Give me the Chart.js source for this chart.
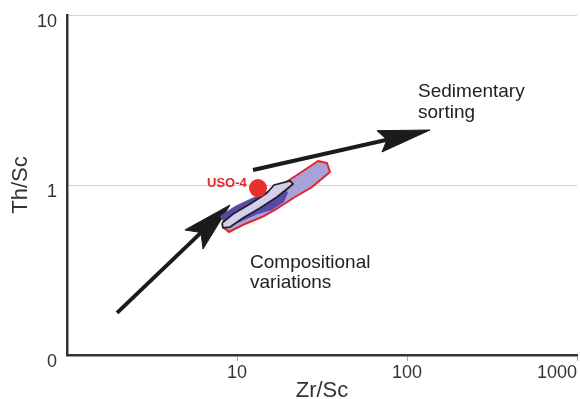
<!DOCTYPE html>
<html>
<head>
<meta charset="utf-8">
<script src="https://cdn.jsdelivr.net/npm/chart.js@4.4.1/dist/chart.umd.min.js"></script>
<style>
  body { margin: 0; background: #fff; }
  canvas { display: block; }
</style>
</head>
<body>
<canvas id="myChart" width="580" height="399"></canvas>
<script>
// Axes
const xTicks = [10, 100, 1000];
const xTickLabels = ['10', '100', '1000'];
const yTicks = [0.1, 1, 10];
const yTickLabels = ['0', '1', '10'];

// Arrows (Zr/Sc, Th/Sc)
const arrow1ShaftX = [1.97, 6.14];
const arrow1ShaftY = [0.177, 0.525];
const arrow1HeadX = [6.14, 4.94, 9.10, 6.31, 6.14];
const arrow1HeadY = [0.525, 0.544, 0.763, 0.420, 0.525];

const arrow2ShaftX = [12.42, 76.3];
const arrow2ShaftY = [1.225, 1.847];
const arrow2HeadX = [76.3, 66.6, 136.6, 71.3, 76.3];
const arrow2HeadY = [1.847, 2.087, 2.106, 1.564, 1.847];

// Sample fields
const redFieldX = [8.39, 10.41, 13.66, 17.90, 23.48, 29.95, 33.83, 35.25, 27.62, 21.94, 17.42, 14.03, 11.14, 8.97, 8.39, 8.39];
const redFieldY = [0.614, 0.713, 0.839, 0.987, 1.177, 1.384, 1.347, 1.192, 0.973, 0.850, 0.732, 0.648, 0.590, 0.529, 0.559, 0.614];

const darkFieldX = [7.94, 9.73, 12.25, 15.64, 18.90, 19.95, 18.90, 16.07, 13.29, 10.41, 8.62, 7.94];
const darkFieldY = [0.657, 0.752, 0.839, 0.935, 0.987, 0.897, 0.794, 0.713, 0.675, 0.606, 0.574, 0.657];

const lightFieldX = [8.16, 9.47, 11.93, 15.01, 16.51, 20.50, 21.35, 19.68, 17.19, 13.66, 10.85, 9.10, 8.27, 8.16];
const lightFieldY = [0.598, 0.675, 0.773, 0.897, 1.0, 1.056, 1.014, 0.947, 0.850, 0.732, 0.640, 0.566, 0.559, 0.598];

// USO-4 sample
const usoX = [13.29];
const usoY = [0.960];

// Annotations
const noteText = [['Sedimentary', 'sorting'], ['Compositional', 'variations'], ['USO-4']];
const noteX = [116.1, 11.93, 6.66];
const noteY = [3.294, 0.325, 0.973];

const pts = (xs, ys) => xs.map((x, i) => ({ x: x, y: ys[i] }));

const noteFont = ['19px "Liberation Sans", Arial, sans-serif', '19px "Liberation Sans", Arial, sans-serif', 'bold 13px "Liberation Sans", Arial, sans-serif'];
const noteColor = ['#222', '#222', '#e2262a'];
const noteLeading = [21, 20, 0];

const notesPlugin = {
    id: 'notes',
    afterDatasetsDraw(chart) {
        const { ctx, scales: { x, y } } = chart;
        ctx.save();
        ctx.textAlign = 'left';
        ctx.textBaseline = 'alphabetic';
        noteText.forEach((lines, i) => {
            ctx.font = noteFont[i];
            ctx.fillStyle = noteColor[i];
            const px = x.getPixelForValue(noteX[i]);
            const py = y.getPixelForValue(noteY[i]);
            lines.forEach((t, j) => ctx.fillText(t, px, py + j * noteLeading[i]));
        });
        ctx.restore();
    }
};

const line = (data, color, width, order) => ({
    data: data, showLine: true, fill: false, borderColor: color, borderWidth: width,
    pointRadius: 0, borderCapStyle: 'butt', order: order
});

const shape = (data, fillColor, borderColor, width, order) => ({
    data: data, showLine: true, fill: 'shape', backgroundColor: fillColor,
    borderColor: borderColor, borderWidth: width, pointRadius: 0,
    borderJoinStyle: 'round', order: order
});

const data = {
    datasets: [
        line(pts(arrow1ShaftX, arrow1ShaftY), '#1b1b1b', 4, 9),
        shape(pts(arrow1HeadX, arrow1HeadY), '#1b1b1b', '#1b1b1b', 1, 8),
        line(pts(arrow2ShaftX, arrow2ShaftY), '#1b1b1b', 4, 7),
        shape(pts(arrow2HeadX, arrow2HeadY), '#1b1b1b', '#1b1b1b', 1, 6),
        shape(pts(redFieldX, redFieldY), '#a7a2da', '#e4262a', 2, 5),
        shape(pts(darkFieldX, darkFieldY), '#5a48ab', 'rgba(0,0,0,0)', 0, 4),
        shape(pts(lightFieldX, lightFieldY), '#d3cff0', '#222', 1.8, 3),
        {
            data: pts(usoX, usoY), pointRadius: 9, pointBackgroundColor: '#e6322a',
            pointBorderWidth: 0, showLine: false, order: 1
        }
    ]
};

const tickFont = { family: '"Liberation Sans", Arial, sans-serif', size: 18 };
const titleFont = { family: '"Liberation Sans", Arial, sans-serif', size: 22 };

const config = {
    type: 'scatter',
    data: data,
    options: {
        responsive: false,
        animation: false,
        events: [],
        layout: { autoPadding: false, padding: { left: 0, right: 3, top: 15, bottom: 0 } },
        plugins: { legend: { display: false }, tooltip: { enabled: false } },
        scales: {
            x: {
                type: 'logarithmic',
                min: 1,
                max: 1000,
                afterBuildTicks: s => { s.ticks = xTicks.map(v => ({ value: v })); },
                afterFit: s => { s.height = 44; s.paddingLeft = 0; s.paddingRight = 0; },
                ticks: {
                    autoSkip: false,
                    maxRotation: 0,
                    padding: 1,
                    color: '#333',
                    font: tickFont,
                    callback: (v, i) => i === xTickLabels.length - 1 ? xTickLabels[i] + '        ' : xTickLabels[i]
                },
                grid: { drawOnChartArea: false, drawTicks: true, tickLength: 6, color: '#aaa' },
                border: { display: true, color: '#333', width: 2.5 },
                title: {
                    display: true, text: 'Zr/Sc', color: '#333',
                    font: Object.assign({ lineHeight: 0.7 }, titleFont), padding: 0
                }
            },
            y: {
                type: 'logarithmic',
                min: 0.1,
                max: 10,
                afterBuildTicks: s => { s.ticks = yTicks.map(v => ({ value: v })); },
                afterFit: s => { s.width = 67; s.paddingTop = 0; s.paddingBottom = 0; },
                ticks: {
                    autoSkip: false,
                    padding: 10,
                    labelOffset: 7,
                    color: '#333',
                    font: tickFont,
                    callback: (v, i) => yTickLabels[i]
                },
                grid: { drawTicks: false, color: '#d2d2d2', lineWidth: 1 },
                border: { display: true, color: '#333', width: 2.5 },
                title: {
                    display: true, text: 'Th/Sc', color: '#333',
                    font: titleFont, padding: { top: 8, bottom: 0 }
                }
            }
        }
    },
    plugins: [notesPlugin]
};

const myChart = new Chart(document.getElementById('myChart'), config);
</script>
</body>
</html>
